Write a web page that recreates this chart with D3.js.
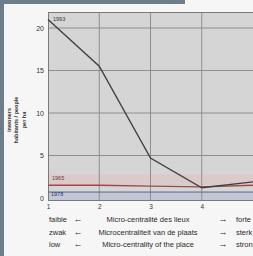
<!DOCTYPE html>
<html>
<head>
<meta charset="utf-8">
<script src="https://cdn.jsdelivr.net/npm/d3@7"></script>
<style>
  body { margin: 0; background: #f6f6f6; }
  svg { display: block; font-family: "Liberation Sans", Arial, sans-serif; }
</style>
</head>
<body>
<svg id="chart" width="253" height="256"></svg>
<script>
// données
const xValues = [1, 2, 3, 4, 5];
const yTicks = [0, 5, 10, 15, 20];
const xTickLabels = ["1", "2", "3", "4"];

const seriesNames = ["1993", "1965", "1978"];
const seriesTop = [21.0, 15.5, 4.7, 1.2, 1.9];
const seriesRed = [1.5, 1.5, 1.4, 1.3, 1.5];
const seriesBlue = [0.7, 0.7, 0.7, 0.7, 0.7];

const axisTitle = ["inwoners", "habitants / people", "per ha"];
const captionRows = [
    ["faible", "Micro-centralité des lieux", "forte"],
    ["zwak", "Microcentraliteit van de plaats", "sterk"],
    ["low", "Micro-centrality of the place", "strong"]
];

const svg = d3.select("#chart");
const W = 253, H = 256;
const plot = { left: 48, right: 253, top: 12, bottom: 201 };

// cadre ardoise à gauche et en haut
svg.append("rect").attr("x", 0).attr("y", 0).attr("width", 4).attr("height", H).attr("fill", "#6d7e8a");
svg.append("rect").attr("x", 0).attr("y", 0).attr("width", 185).attr("height", 4).attr("fill", "#6d7e8a");

// échelles
const x = d3.scaleLinear().domain([1, 5]).range([plot.left, 253]);
const y = d3.scaleLinear().domain([0, 20]).range([198, 28]);

// fond du graphique
svg.append("rect")
    .attr("x", plot.left).attr("y", plot.top)
    .attr("width", plot.right - plot.left).attr("height", plot.bottom - plot.top)
    .attr("fill", "#d5d5d5");

// bande rose et bande bleue en bas
svg.append("rect")
    .attr("x", plot.left).attr("y", y(2.8))
    .attr("width", plot.right - plot.left).attr("height", y(seriesRed[0]) - y(2.8))
    .attr("fill", "#dbcaca");
svg.append("rect")
    .attr("x", plot.left).attr("y", y(seriesBlue[0]))
    .attr("width", plot.right - plot.left).attr("height", plot.bottom - y(seriesBlue[0]))
    .attr("fill", "#c3c6d4");

// grille
const grid = svg.append("g").attr("class", "grid");
grid.selectAll("line.h")
    .data(yTicks.filter(d => d > 0))
    .enter().append("line")
    .attr("x1", plot.left).attr("x2", plot.right)
    .attr("y1", d => y(d)).attr("y2", d => y(d))
    .attr("stroke", "#8e8e8e").attr("stroke-width", 1);
grid.selectAll("line.v")
    .data(xValues.slice(1, 4))
    .enter().append("line")
    .attr("x1", d => x(d)).attr("x2", d => x(d))
    .attr("y1", plot.top).attr("y2", plot.bottom)
    .attr("stroke", "#8e8e8e").attr("stroke-width", 1);

// bord du graphique
svg.append("rect")
    .attr("x", plot.left + 0.5).attr("y", plot.top + 0.5)
    .attr("width", plot.right - plot.left).attr("height", plot.bottom - plot.top - 1)
    .attr("fill", "none").attr("stroke", "#7a7a7a");

// courbes
const line = d3.line().x((d, i) => x(xValues[i])).y(d => y(d));
svg.append("path").datum(seriesBlue).attr("d", line)
    .attr("fill", "none").attr("stroke", "#5a6488").attr("stroke-width", 1);
svg.append("path").datum(seriesRed).attr("d", line)
    .attr("fill", "none").attr("stroke", "#9a4a4a").attr("stroke-width", 1.3);
svg.append("path").datum(seriesTop).attr("d", line)
    .attr("fill", "none").attr("stroke", "#404040").attr("stroke-width", 1.4);

// étiquettes des séries
svg.append("text").attr("x", 53).attr("y", 21).text(seriesNames[0])
    .attr("font-size", 5.5).attr("fill", "#333");
svg.append("text").attr("x", 52).attr("y", 180).text(seriesNames[1])
    .attr("font-size", 5.5).attr("fill", "#6a3a3a");
svg.append("text").attr("x", 51).attr("y", 196).text(seriesNames[2])
    .attr("font-size", 5.5).attr("fill", "#2a3270");

// axe Y
const yAxis = svg.append("g").attr("transform", `translate(${plot.left - 1},0)`)
    .call(d3.axisLeft(y).tickValues(yTicks).tickSize(0).tickPadding(3));
yAxis.select(".domain").remove();
yAxis.selectAll("text").attr("font-size", 7).attr("fill", "#333").attr("font-family", "Liberation Sans, Arial");

// axe X
const xAxis = svg.append("g").attr("transform", `translate(0,${plot.bottom})`)
    .call(d3.axisBottom(x).tickValues([1, 2, 3, 4]).tickFormat((d, i) => xTickLabels[i]).tickSize(0).tickPadding(3));
xAxis.select(".domain").remove();
xAxis.selectAll("text").attr("font-size", 6.5).attr("fill", "#333").attr("font-family", "Liberation Sans, Arial");

// titre de l'axe Y (trois colonnes verticales)
const titleX = [11, 18, 26];
axisTitle.forEach((t, i) => {
    svg.append("text")
        .attr("transform", `translate(${titleX[i]},120) rotate(-90)`)
        .attr("text-anchor", "middle")
        .attr("font-size", 5.5).attr("font-weight", "bold").attr("fill", "#333")
        .text(t);
});

// légende du bas
const rowY = [222, 235, 247];
captionRows.forEach((row, i) => {
    const g = svg.append("g").attr("font-size", 7.5).attr("fill", "#2a2a2a");
    g.append("text").attr("x", 49).attr("y", rowY[i]).text(row[0]);
    g.append("text").attr("x", 78).attr("y", rowY[i]).attr("text-anchor", "middle").attr("font-size", 9).text("\u2190");
    g.append("text").attr("x", 148).attr("y", rowY[i]).attr("text-anchor", "middle").text(row[1]);
    g.append("text").attr("x", 223).attr("y", rowY[i]).attr("text-anchor", "middle").attr("font-size", 9).text("\u2192");
    g.append("text").attr("x", 236).attr("y", rowY[i]).text(row[2]);
});
</script>
</body>
</html>
